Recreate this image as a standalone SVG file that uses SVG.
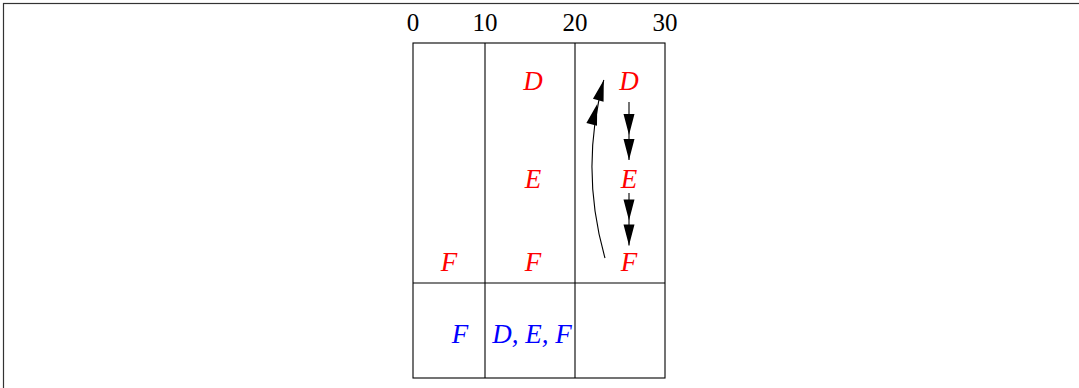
<svg xmlns="http://www.w3.org/2000/svg" width="1079" height="388" viewBox="0 0 1079 388">
<style>
.grid{fill:none;stroke:#000;stroke-width:1.1}
.frame{fill:none;stroke:#333;stroke-width:1.2}
.num{font-family:"Liberation Serif",serif;font-size:25px;fill:#000;text-anchor:middle}
.lab{font-family:"Liberation Serif",serif;font-style:italic;font-size:27px;text-anchor:middle}
.red{fill:#ff0000}
.blue{fill:#0000ff}
.arr{fill:none;stroke:#000;stroke-width:1.1}
</style>
<defs>
<marker id="dbl" markerUnits="userSpaceOnUse" viewBox="-1 -7 48 14" markerWidth="48" markerHeight="14" refX="46" refY="0" orient="auto" overflow="visible">
<path d="M0,-5.5 L21,0 L0,5.5 Z M25,-5.5 L46,0 L25,5.5 Z" fill="#000"/>
</marker>
</defs>
<rect class="frame" x="3.5" y="3.5" width="1100" height="400"/>
<g id="grid">
<rect class="grid" x="413" y="43" width="252" height="335"/>
<line class="grid" x1="485" y1="43" x2="485" y2="378"/>
<line class="grid" x1="575" y1="43" x2="575" y2="378"/>
<line class="grid" x1="413" y1="283" x2="665" y2="283"/>
</g>
<g id="axis">
<text class="num" x="413" y="31">0</text>
<text class="num" x="485" y="31">10</text>
<text class="num" x="575" y="31">20</text>
<text class="num" x="665" y="31">30</text>
</g>
<g id="nodeD1"><text class="lab red" x="533" y="90">D</text></g>
<g id="nodeE1"><text class="lab red" x="533" y="188">E</text></g>
<g id="nodeF0"><text class="lab red" x="449" y="271">F</text></g>
<g id="nodeF1"><text class="lab red" x="533" y="271">F</text></g>
<g id="nodeD2"><text class="lab red" x="629" y="90">D</text></g>
<g id="nodeE2"><text class="lab red" x="629" y="188">E</text></g>
<g id="nodeF2"><text class="lab red" x="629" y="271">F</text></g>
<g id="nodeB0"><text class="lab blue" x="460" y="343">F</text></g>
<g id="nodeB1"><text class="lab blue" x="532" y="343">D, E, F</text></g>
<g id="connectors">
<path class="arr" d="M629,102 L629,160" marker-end="url(#dbl)"/>
<path class="arr" d="M629,193 L629,245.5" marker-end="url(#dbl)"/>
<path class="arr" d="M605,258 Q579.5,169 603.8,80" marker-end="url(#dbl)"/>
</g>
</svg>
